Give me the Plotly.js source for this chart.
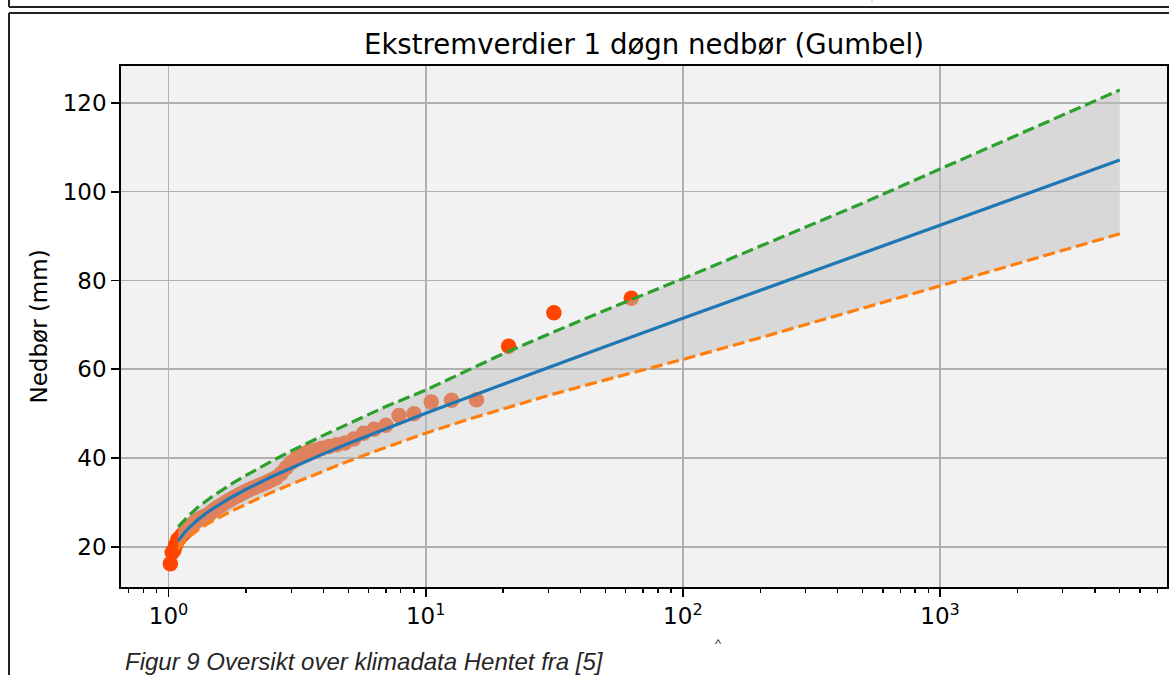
<!DOCTYPE html>
<html>
<head>
<meta charset="utf-8">
<script src="https://cdn.plot.ly/plotly-3.0.1.min.js"></script>
<style>html,body{margin:0;padding:0;background:#fff;}#chart{width:1169px;height:675px;}</style>
</head>
<body>
<div id="chart"></div>
<script>
// Observed annual maxima: return period (years) and precipitation (mm)
const obsReturnPeriod = [1.016, 1.033, 1.05, 1.068, 1.086, 1.105, 1.125, 1.145, 1.167, 1.189, 1.212, 1.235, 1.26, 1.286, 1.3125, 1.34, 1.37, 1.4, 1.432, 1.465, 1.5, 1.537, 1.575, 1.615, 1.658, 1.703, 1.75, 1.8, 1.853, 1.909, 1.969, 2.032, 2.1, 2.172, 2.25, 2.333, 2.423, 2.52, 2.625, 2.739, 2.864, 3.0, 3.15, 3.316, 3.5, 3.706, 3.9375, 4.2, 4.5, 4.846, 5.25, 5.727, 6.3, 7.0, 7.875, 9.0, 10.5, 12.6, 15.75, 21.0, 31.5, 63.0];
const obsPrecip = [16.2, 18.7, 19.3, 20.5, 21.6, 22.0, 22.6, 23.0, 23.6, 24.2, 24.6, 25.0, 25.4, 25.8, 26.2, 26.5, 26.8, 27.0, 27.3, 27.8, 28.3, 28.7, 29.1, 29.5, 29.9, 30.3, 30.7, 31.1, 31.5, 31.9, 32.3, 32.7, 33.1, 33.4, 33.8, 34.2, 34.6, 35.1, 35.6, 36.5, 37.8, 39.0, 40.0, 40.8, 41.4, 41.8, 42.2, 42.6, 43.0, 43.4, 44.3, 45.6, 46.5, 47.4, 49.6, 50.0, 52.6, 53.0, 53.1, 65.2, 72.7, 76.0];

// Gumbel fit and confidence bounds, read at these return periods
const fitReturnPeriod = [1.09, 1.15, 1.2, 1.3, 1.4, 1.5, 1.75, 2, 2.5, 3, 4, 5, 7, 10, 15, 20, 30, 50, 100, 200, 500, 1000, 2000, 5000];
const fitPrecip   = [21.28, 23.13, 24.29, 26.12, 27.55, 28.74, 31.11, 32.94, 35.71, 37.81, 40.94, 43.25, 46.62, 50.08, 53.93, 56.63, 60.40, 65.11, 71.46, 77.79, 86.14, 92.46, 98.77, 107.11];
const upperPrecip = [24.5, 26.1, 27.1, 28.9, 30.4, 31.6, 34.1, 36.1, 39.2, 41.6, 45.1, 47.7, 51.6, 55.3, 60.1, 63.5, 67.9, 73.3, 80.4, 87.7, 97.4, 105.1, 112.8, 122.9];
const lowerPrecip = [19.5, 21.2, 22.2, 23.8, 25.0, 26.0, 28.0, 29.6, 32.2, 34.1, 37.1, 39.3, 42.4, 45.6, 48.9, 51.1, 54.1, 57.6, 62.2, 67.1, 73.7, 78.8, 83.8, 90.5];

const xTickVals = [1, 10, 100, 1000];
const xTickText = ['10<sup>0</sup>', '10<sup>1</sup>', '10<sup>2</sup>', '10<sup>3</sup>'];
const yTickVals = [20, 40, 60, 80, 100, 120];

const titleText = 'Ekstremverdier 1 døgn nedbør (Gumbel)';
const yTitleText = 'Nedbør (mm)';
const captionText = 'Figur 9 Oversikt over klimadata Hentet fra [5]';

// pixel helpers for plot-area geometry (plot area: x 121..1167, y 66..587)
const PL = 121, PR = 1167, PT = 66, PB = 587;
const px = v => (v - PL) / (PR - PL);
const py = v => (PB - v) / (PB - PT);

const dashStyle = '12px,5px';

const traces = [
  { x: obsReturnPeriod, y: obsPrecip, type: 'scatter', mode: 'markers',
    marker: { color: '#ff4500', size: 15.5, line: { width: 0 } }, hoverinfo: 'skip' },
  { x: fitReturnPeriod, y: upperPrecip, type: 'scatter', mode: 'lines',
    line: { width: 0, color: 'rgba(0,0,0,0)' }, hoverinfo: 'skip' },
  { x: fitReturnPeriod, y: lowerPrecip, type: 'scatter', mode: 'lines',
    line: { width: 0, color: 'rgba(0,0,0,0)' }, fill: 'tonexty',
    fillcolor: 'rgba(190,190,190,0.5)', hoverinfo: 'skip' },
  { x: fitReturnPeriod, y: fitPrecip, type: 'scatter', mode: 'lines',
    line: { color: '#1f77b4', width: 3.2 }, hoverinfo: 'skip' },
  { x: fitReturnPeriod, y: upperPrecip, type: 'scatter', mode: 'lines',
    line: { color: '#2ca02c', width: 3.2, dash: dashStyle }, hoverinfo: 'skip' },
  { x: fitReturnPeriod, y: lowerPrecip, type: 'scatter', mode: 'lines',
    line: { color: '#ff7f0e', width: 3.2, dash: dashStyle }, hoverinfo: 'skip' }
];

const tickFont = { family: 'DejaVu Sans', size: 23, color: '#000' };

const layout = {
  width: 1169, height: 675,
  margin: { l: PL, r: 1169 - PR, t: PT, b: 675 - PB, pad: 0 },
  paper_bgcolor: '#ffffff',
  plot_bgcolor: '#f2f2f2',
  showlegend: false,
  hovermode: false,
  title: { text: titleText, font: { family: 'DejaVu Sans', size: 27.6, color: '#000' },
           x: 0.5, xref: 'paper', xanchor: 'center', y: 1 - 44 / 675, yref: 'container', yanchor: 'middle' },
  xaxis: {
    type: 'log', range: [-0.185, 3.8826],
    tickmode: 'array', tickvals: xTickVals, ticktext: xTickText,
    ticks: 'outside', ticklen: 8, tickwidth: 1.8, tickcolor: '#000',
    tickfont: tickFont,
    showline: true, linecolor: '#000', linewidth: 1.8, mirror: true,
    showgrid: true, gridcolor: '#b0b0b0', gridwidth: 1.6, zeroline: false,
    minor: { ticks: 'outside', ticklen: 4.6, tickwidth: 1.3, tickcolor: '#000', dtick: 'D1', showgrid: false }
  },
  yaxis: {
    range: [10.95, 128.3],
    tickmode: 'array', tickvals: yTickVals,
    ticks: 'outside', ticklen: 8, tickwidth: 1.8, tickcolor: '#000',
    tickfont: tickFont,
    showline: true, linecolor: '#000', linewidth: 1.8, mirror: true,
    showgrid: true, gridcolor: '#b0b0b0', gridwidth: 1.6, zeroline: false
  },
  annotations: [
    { text: yTitleText, xref: 'paper', yref: 'paper', x: px(38), y: 0.5, textangle: -90,
      xanchor: 'center', yanchor: 'middle', showarrow: false,
      font: { family: 'DejaVu Sans', size: 23, color: '#000' } },
    { text: '<i>' + captionText + '</i>', xref: 'paper', yref: 'paper', x: px(123), y: py(661),
      xanchor: 'left', yanchor: 'middle', showarrow: false,
      font: { family: 'Liberation Sans, Arial, sans-serif', size: 24, color: '#262626' } },
    { text: '^', xref: 'paper', yref: 'paper', x: px(718), y: py(643),
      xanchor: 'center', yanchor: 'middle', showarrow: false,
      font: { family: 'Liberation Sans, Arial, sans-serif', size: 13, color: '#333' } }
  ],
  shapes: [
    { type: 'line', xref: 'paper', yref: 'paper', x0: px(9), x1: px(1175), y0: py(7), y1: py(7), line: { color: '#222', width: 2 } },
    { type: 'line', xref: 'paper', yref: 'paper', x0: px(9), x1: px(1175), y0: py(13), y1: py(13), line: { color: '#222', width: 2 } },
    { type: 'line', xref: 'paper', yref: 'paper', x0: px(9), x1: px(9), y0: py(-2), y1: py(7), line: { color: '#222', width: 2 } },
    { type: 'line', xref: 'paper', yref: 'paper', x0: px(9), x1: px(9), y0: py(13), y1: py(680), line: { color: '#222', width: 2 } },
    { type: 'line', xref: 'paper', yref: 'paper', x0: px(872), x1: px(872), y0: py(0), y1: py(3), line: { color: '#bbb', width: 1 } }
  ]
};

Plotly.newPlot('chart', traces, layout, { staticPlot: true, displayModeBar: false });
</script>
</body>
</html>
